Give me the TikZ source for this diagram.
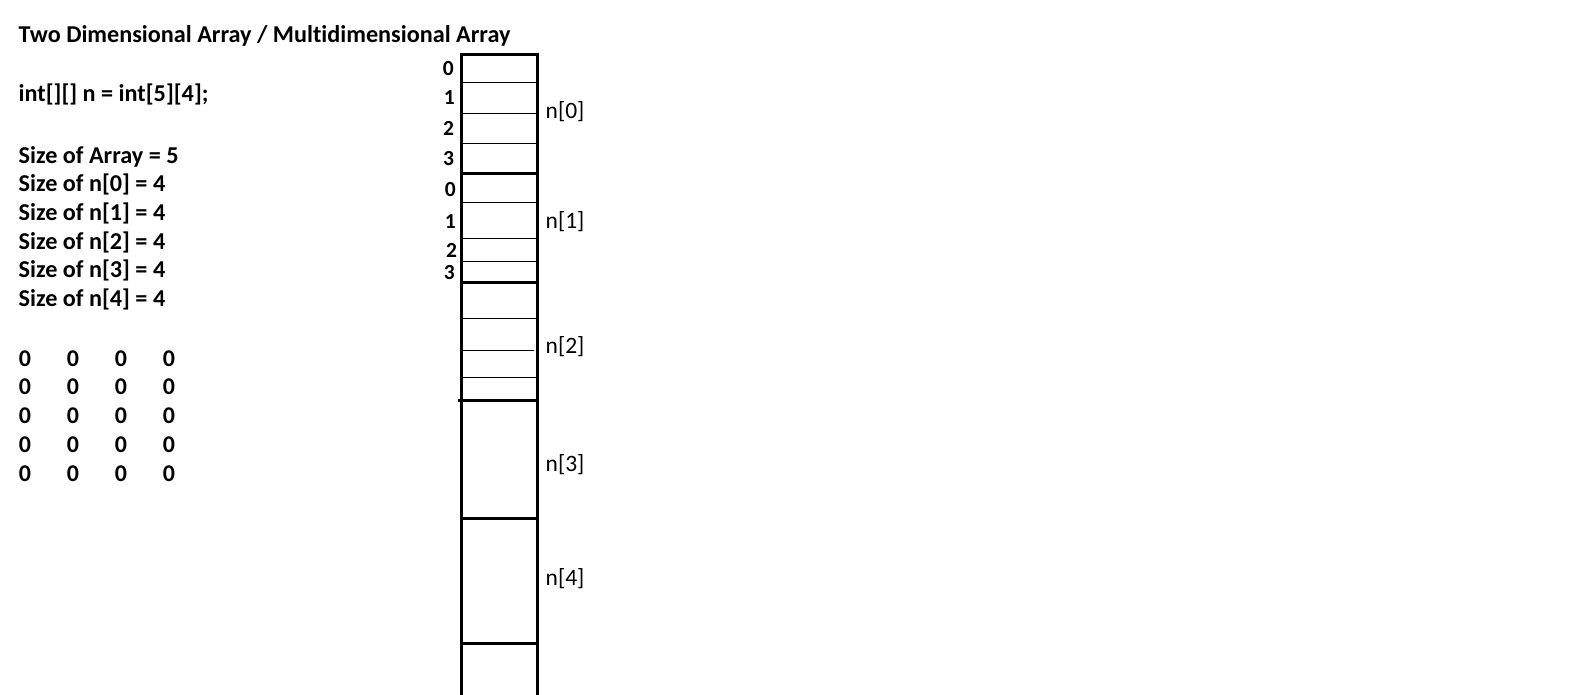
\documentclass[tikz,border=0pt]{standalone}
\usepackage{fontspec}
\setmainfont{Carlito}[Ligatures=CommonOff]
\begin{document}
\begin{tikzpicture}[x=1pt,y=-1pt,
  lbl/.style={inner sep=0pt,anchor=base west,font=\fontsize{24.2}{29}\selectfont\bfseries},
  idx/.style={inner sep=0pt,anchor=east,font=\fontsize{21.5}{25}\selectfont\bfseries},
  nlbl/.style={inner sep=0pt,anchor=base west,font=\fontsize{23.5}{28}\selectfont},
  zero/.style={inner sep=0pt,anchor=base,font=\fontsize{24}{29}\selectfont\bfseries},
  thin/.style={line width=1.3pt},
  thick/.style={line width=3pt}]
\useasboundingbox (0,0) rectangle (1594,695);
% left text
\node[lbl] (title) at (18.5,42.5) {Two Dimensional Array / Multidimensional Array};
\node[lbl] (decl) at (18.5,101.5) {int[][] n = int[5][4];};
\node[lbl] (sz) at (18.5,163.5) {Size of Array = 5};
\foreach \i in {0,...,4}{
  \node[lbl] (sz\i) at (18.5,191.7+28.75*\i) {Size of n[\i] = 4};
}
\foreach \r in {0,...,4}{
  \foreach \c in {0,...,3}{
    \node[zero] (z\r\c) at (25+48*\c,366+28.75*\r) {0};
  }
}
% column
\draw[thin] (461,82.3) -- (537,82.3);
\draw[thin] (461,113.3) -- (537,113.3);
\draw[thin] (461,143.3) -- (537,143.3);
\draw[thin] (461,202.3) -- (537,202.3);
\draw[thin] (461,238.3) -- (537,238.3);
\draw[thin] (461,261.3) -- (537,261.3);
\draw[thin] (461,318.3) -- (537,318.3);
\draw[thin] (461,350.3) -- (534,350.3);
\draw[thin] (461,377.3) -- (537,377.3);
\draw[thick] (461,173.3) -- (537,173.3);
\draw[thick] (461,282.3) -- (537,282.3);
\draw[thick] (458,400.3) -- (537,400.3);
\draw[thick] (461,518.3) -- (537,518.3);
\draw[thick] (461,643.3) -- (537,643.3);
\draw[thick] (461,700) -- (461,54.3) -- (537,54.3) -- (537,700);
% indices
\node[idx] (i00) at (454,68.9) {0};
\node[idx] (i01) at (455,97.8) {1};
\node[idx] (i02) at (454.3,128.3) {2};
\node[idx] (i03) at (454.3,158.3) {3};
\node[idx] (i10) at (456,190) {0};
\node[idx] (i11) at (456,221.7) {1};
\node[idx] (i12) at (457.3,250) {2};
\node[idx] (i13) at (455,272.5) {3};
% row labels
\node[nlbl] (n0) at (545.5,119) {n[0]};
\node[nlbl] (n1) at (545.5,228.3) {n[1]};
\node[nlbl] (n2) at (545.5,353.3) {n[2]};
\node[nlbl] (n3) at (545.5,471.7) {n[3]};
\node[nlbl] (n4) at (545.5,585) {n[4]};
\end{tikzpicture}
\end{document}
